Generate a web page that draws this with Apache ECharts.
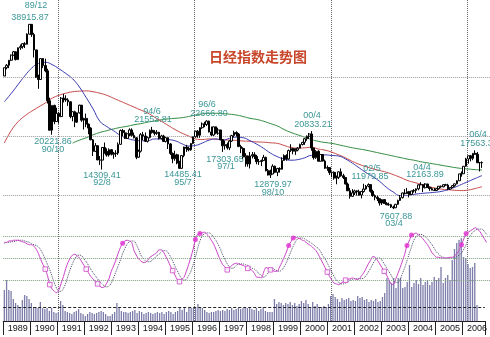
<!DOCTYPE html>
<html><head><meta charset="utf-8">
<script src="https://cdn.jsdelivr.net/npm/echarts@6/dist/echarts.min.js"></script>
<style>html,body{margin:0;padding:0;background:#fff}#c{width:490px;height:337px}</style>
</head><body><div id="c"></div>
<script>
// ---- categories (months) ----
const categories = [];
for (let y = 1989; y <= 2006; y++) for (let m = 1; m <= 12; m++) if (categories.length < 214) categories.push(y + '/' + String(m).padStart(2, '0'));

// ---- monthly prices 1989/01 .. 2006/07 ----
const open = [
30160,31580,31990,32840,33710,34270,32950,34950,35140,35640,35550,37270,
38920,37190,34590,29980,29580,33130,31940,31040,25980,20980,25190,22450,
23850,23290,26410,26290,26110,25790,23290,24120,22340,23920,25220,22690,
22980,22020,21340,19350,17390,18350,15950,15910,18060,17400,16770,17680,
16920,17020,17110,18590,20920,20550,19590,20380,21030,20110,19700,16410,
17420,20230,20000,19110,19730,20970,20640,20450,20630,19560,19990,19080,
19720,18650,17050,16140,16810,15440,14520,16680,18120,17910,17650,18740,
19870,20810,20130,21410,22040,21960,22530,20690,20170,21560,20470,21020,
19360,18330,18560,18000,19150,20070,20600,20330,18230,17890,16460,16630,
15260,16630,16830,16530,15640,15670,15830,16380,14110,13410,13560,14880,
13840,14500,14370,15840,16700,16110,17530,17860,17440,17610,17940,18560,
18930,19540,19960,20340,17970,16330,17410,15730,16860,15750,14540,14650,
13790,13840,12880,13000,13930,13260,12970,11860,10710,9770,10370,10700,
10540,10000,10590,11020,11490,11760,10620,9880,9620,9380,8640,9220,
8580,8340,8360,7970,7830,8420,9080,9560,10340,10220,10560,10100,
10680,10780,11040,11720,11760,11240,11860,11330,11080,10820,10770,11070,
11490,11390,11740,11670,11010,11280,11580,11900,12410,13570,13610,14870,
16110,16650,16210,17060,16910,15470,15510];
const close = [
31580,31990,32840,33710,34270,32950,34950,35140,35640,35550,37270,38920,
37190,34590,29980,29580,33130,31940,31040,25980,20980,25190,22450,23850,
23290,26410,26290,26110,25790,23290,24120,22340,23920,25220,22690,22980,
22020,21340,19350,17390,18350,15950,15910,18060,17400,16770,17680,16920,
17020,17110,18590,20920,20550,19590,20380,21030,20110,19700,16410,17420,
20230,20000,19110,19730,20970,20640,20450,20630,19560,19990,19080,19720,
18650,17050,16140,16810,15440,14520,16680,18120,17910,17650,18740,19870,
20810,20130,21410,22040,21960,22530,20690,20170,21560,20470,21020,19360,
18330,18560,18000,19150,20070,20600,20330,18230,17890,16460,16630,15260,
16630,16830,16530,15640,15670,15830,16380,14110,13410,13560,14880,13840,
14500,14370,15840,16700,16110,17530,17860,17440,17610,17940,18560,18930,
19540,19960,20340,17970,16330,17410,15730,16860,15750,14540,14650,13790,
13840,12880,13000,13930,13260,12970,11860,10710,9770,10370,10700,10540,
10000,10590,11020,11490,11760,10620,9880,9620,9380,8640,9220,8580,
8340,8360,7970,7830,8420,9080,9560,10340,10220,10560,10100,10680,
10780,11040,11720,11760,11240,11860,11330,11080,10820,10770,11070,11490,
11390,11740,11670,11010,11280,11580,11900,12410,13570,13610,14870,16110,
16650,16210,17060,16910,15470,15510,15460];
const low = [
30160,31300,31500,32700,33600,32800,32900,34600,34800,34900,35500,37200,
36800,33300,29840,28000,29500,31500,30800,25500,20980,20220,22000,22400,
22100,23200,25700,25800,25100,23000,22500,21500,22200,23800,22400,21100,
21500,20300,19300,16600,17300,15900,15100,14310,17000,16500,16500,16700,
16150,16450,16800,18500,20000,19500,19500,20000,19900,19600,16080,16300,
17200,19300,19000,18900,19600,20400,20100,20200,19400,19400,19000,18900,
17800,16800,15380,15800,15200,14600,14490,16400,17300,17400,17500,18600,
19700,19700,19700,21200,21500,21700,20600,20000,20000,20300,20200,19300,
17300,17700,17700,17600,19000,19800,19900,18100,17100,16100,14800,14800,
14500,16200,16100,15200,15100,14900,15800,14000,13300,12880,13500,13700,
13200,13800,14300,15800,15800,16000,17300,16900,16800,17400,17900,18400,
18500,19200,19500,17500,16000,16100,15700,15700,15700,14400,14100,13400,
13000,12600,11820,12700,13100,12700,11800,10700,9380,9700,10000,9900,
9900,9420,10400,10900,11300,10400,9700,9100,8970,8200,8300,8500,
8300,8200,7800,7610,7800,8300,9000,9400,10100,10200,9600,10000,
10400,10300,10800,11700,10500,11100,11200,10700,10800,10700,10700,10900,
11200,11300,11600,10800,10900,11200,11400,11800,12400,13100,13600,14800,
15300,15700,15900,16800,15400,14000,14600];
const high = [
31580,32200,32850,33800,34400,34300,35000,35500,35700,35900,37400,38920,
38700,37500,34600,30400,33200,33200,33100,31400,26500,25200,25300,24800,
24100,26600,27150,26900,26400,25900,24200,24300,24000,25300,25100,23100,
23800,22100,21500,19500,18800,18400,16600,18100,18900,17900,17900,17800,
17300,17600,18900,21100,21200,21000,20600,21300,21300,20600,19800,17700,
20500,20700,20600,19900,21100,21550,21000,21000,20700,20200,20200,19800,
19700,18800,17200,17500,17000,15800,16800,18200,18500,18200,18800,19900,
20900,21000,21500,22300,22400,22670,22600,21600,21600,21600,21400,21000,
19500,19200,18900,19300,20200,20900,20800,20500,18500,18100,17100,16500,
17300,17300,17250,16800,16100,16000,16800,16500,14400,14300,15200,15000,
14600,14700,16400,16900,16900,17700,18600,18000,17900,18100,18700,19000,
19600,20100,20500,20830,18000,17600,17600,16900,16900,16000,15000,14700,
14000,14000,13300,14000,14500,13600,13000,12100,11200,11000,10900,10800,
10900,10700,11900,11700,11980,11800,10900,10100,9900,9400,9300,9200,
8800,8700,8500,8200,8500,9200,10000,10400,11000,11200,10700,10700,
11000,11100,11800,12160,11800,12000,11900,11400,11300,11200,11200,11500,
11600,11800,11900,11900,11300,11700,11900,12500,13600,14000,14900,16300,
16650,16800,17100,17560,17300,15600,15700];

// ---- moving averages, read every 3rd month ----
const maBlue = [25800,27200,28700,30200,31500,32300,32500,32100,31400,30600,29700,28300,26500,24600,22500,21600,20900,20100,19600,19300,19200,19200,19500,19500,19400,19200,18700,18300,18400,18800,19300,19500,19300,19600,19800,19700,19200,18600,17900,17100,16500,16100,15900,16000,16300,16700,16700,16800,
16700,16600,16100,15400,14600,13800,13100,12300,11300,10500,9900,9900,10100,10250,10350,10450,10600,10900,11300,11800,12300,12800,13300];
const maRed = [18800,20900,22400,23400,24200,24900,25600,26400,26900,27250,27500,27600,27650,27500,27250,26900,26400,25900,25400,24900,24400,23900,23200,22500,21800,21100,20500,20000,19500,19400,19500,19450,19350,19300,19250,19150,19100,19000,18950,18850,18750,18400,18050,17950,18000,18100,
17800,17600,17250,16800,16300,15700,15200,14800,14450,14150,13850,13450,13000,12500,12150,11850,11500,11200,11000,10900,10800,10750,10850,11100,11400];
const maGreen = [null,null,null,null,null,null,null,null,null,null,
18800,19300,19700,20200,20600,20900,21200,21450,21650,21900,22100,22350,22550,22750,22900,23000,23100,23300,23550,23750,23850,23850,23800,23700,23550,23300,23000,22800,22500,22100,21700,21100,20600,20200,19800,19400,19100,18900,18750,18500,18250,18000,17800,17600,17350,17100,16850,16600,16350,16100,15900,15650,15450,15250,15050,14850,14650,14500,14400,14300,14250];

// ---- oscillator (0-100) ----
const oscMain = [71,71,73,73,74,74,74,73,72,71,69,68,
68,66,62,56,48,41,35,26,14,8,5,3,
7,16,25,36,44,50,54,55,53,50,45,40,
35,30,25,22,18,15,12,10,11,16,22,32,
39,47,56,64,70,73,74,73,71,60,54,49,
46,44,44,47,51,53,55,57,61,61,58,52,
46,39,33,27,21,18,21,24,32,41,51,62,
75,82,83,84,85,82,79,74,69,62,54,47,
41,38,34,37,40,42,43,42,41,40,38,36,
35,33,29,24,24,23,31,37,36,34,33,32,
32,38,44,51,58,67,72,77,78,77,76,74,
73,70,68,66,63,60,55,49,43,37,31,25,
20,16,15,14,16,18,20,21,22,23,22,21,
22,26,30,36,42,47,52,51,47,42,37,32,
27,21,15,14,21,29,37,46,55,67,73,81,
82,84,81,79,76,72,68,63,57,54,51,51,
50,50,50,50,51,51,53,56,61,68,76,83,
85,87,89,91,89,86,81,76,71];
const oscSignal = [70,71,71,72,72,73,74,74,74,73,72,71,
69,68,67,65,61,55,48,41,34,25,16,9,
5,5,9,16,26,35,43,49,53,54,53,49,
45,40,35,30,26,22,18,15,12,11,12,16,
23,31,39,47,56,63,69,72,73,73,68,62,
54,50,46,45,45,47,50,53,55,58,60,60,
57,52,46,39,33,27,22,20,21,26,32,41,
51,63,73,80,83,84,84,82,78,74,68,62,
54,48,42,38,36,37,40,42,42,42,41,40,
38,36,35,32,29,26,24,26,30,35,36,34,
33,32,34,38,44,51,59,66,72,76,77,77,
76,74,72,70,68,65,63,59,53,49,43,37,
31,25,20,17,15,15,16,18,20,21,22,22,
22,22,23,26,31,36,42,47,50,50,47,42,
37,32,27,21,17,17,21,29,37,46,56,65,
74,79,82,82,81,79,76,72,68,63,58,55,
52,51,50,50,50,50,51,52,54,57,62,68,
76,81,85,87,89,89,89,86,82];
const buyMonths = [52,84,86,125,127,177,179,201,203];
const sellMonths = [18,20,36,41,74,77,98,107,117,142,150,167];

// ---- volume (relative) ----
const volume = [
31,41,31,30,22,18,16,14,21,26,25,22,
18,14,14,13,19,13,12,13,10,13,9,8,
9,20,16,10,9,8,7,9,10,12,8,7,
5,7,9,8,7,8,9,10,9,7,5,5,
7,9,18,13,10,9,9,8,9,10,11,8,
10,9,7,8,9,8,7,8,9,8,9,7,
9,10,9,7,9,10,13,11,14,9,13,13,
13,13,17,14,13,11,9,8,9,9,10,11,
10,11,10,12,11,13,11,12,13,12,13,13,
13,14,12,11,13,10,12,14,10,9,9,9,
22,17,19,18,16,18,17,19,16,18,15,17,
20,18,21,17,14,19,15,17,14,14,15,14,
17,25,27,24,22,19,23,21,22,23,20,21,
20,25,23,24,21,22,19,21,20,22,19,20,
24,28,43,41,38,43,33,43,43,33,34,39,
56,34,38,41,37,43,36,39,41,36,39,44,
41,43,54,38,43,46,41,61,72,78,81,83,
64,63,57,53,54,58,16];
const volumeRef = 13.3;

// ---- annotations ----
const titleText = '日经指数走势图';
const noteTexts = ['89/12','38915.87','20221.86','90/10','14309.41','92/8','94/6','21552.81','14485.41','95/7','96/6','22666.80','17303.65','97/1','12879.97','98/10','00/4','20833.21','02/5','11979.85','7607.88','03/4','04/4','12163.89','06/4','17563.37'];

// ================= layout & styling =================
const notePos = [[36,5.5],[30,17.5],[53,142],[53,150],[102,175.5],[102,183],[152,111.5],[153,120],[183,175],[183,183],[207,105],[209,114],[225,159.7],[226,166.3],[273,185],[273,193],[312,115.5],[313,124.5],[372,169],[370,177],[396,216.5],[394,224],[422,168],[425,175],[478,135],[479,143.5]];

const chart = echarts.init(document.getElementById('c'), null, {renderer: 'canvas'});
const L = 3.2, W = 214 * 2.283;
const everyThird = arr => categories.map((c, i) => (i % 3 === 0 && i / 3 < arr.length) ? arr[i / 3] : null);
const candles = open.map((o, i) => [o, close[i], low[i], high[i]]);
const baseX = idx => ({type: 'category', data: categories, gridIndex: idx, boundaryGap: true,
  axisLine: {show: false}, axisTick: {show: false}, axisLabel: {show: false}, splitLine: {show: false}});
const hidY = (idx, min, max) => ({type: 'value', gridIndex: idx, min, max, axisLine: {show: false},
  axisTick: {show: false}, axisLabel: {show: false}, splitLine: {show: false}});
const vlines = [24, 84, 144, 204];
const noteColor = '#3c9696';

const graphics = noteTexts.map((t, k) => ({type: 'text', x: notePos[k][0], y: notePos[k][1], z: 50,
  style: {text: t, fill: noteColor, font: '9px "Liberation Sans"', align: 'center', verticalAlign: 'middle', textAlign: 'center', textVerticalAlign: 'middle'}}));
graphics.push({type: 'text', x: 258, y: 57, z: 50, style: {text: titleText, fill: '#c8462a', font: 'bold 14px "Noto Sans CJK SC"', align: 'center', verticalAlign: 'middle', textAlign: 'center', textVerticalAlign: 'middle'}});

const volX = baseX(2);
volX.axisLine = {show: true, lineStyle: {color: '#222', width: 1}};
volX.axisTick = {show: true, length: 14, inside: false, interval: (i) => i % 12 === 0, lineStyle: {color: '#222', width: 1}};
volX.axisLabel = {show: true, interval: (i) => i % 12 === 6, formatter: v => v.slice(0, 4), fontSize: 9, color: '#111', fontFamily: 'Liberation Sans', margin: 3};
const lineX = baseX(3);
lineX.splitLine = {show: true, interval: (i) => vlines.indexOf(i) >= 0, lineStyle: {type: 'dotted', color: '#666', width: 1}};

const gl = (v) => ({yAxis: v});
chart.setOption({
  animation: false,
  backgroundColor: '#fff',
  grid: [
    {left: L, top: 0, width: W, height: 230},
    {left: L, top: 221, width: W, height: 81.4},
    {left: L, top: 230, width: W, height: 91},
    {left: L, top: 0, width: W, height: 321}
  ],
  xAxis: [baseX(0), baseX(1), volX, lineX],
  yAxis: [hidY(0, 4068, 43051), hidY(1, -10, 100), hidY(2, 0, 91), hidY(3, 0, 1)],
  graphic: graphics,
  series: [
    {type: 'bar', xAxisIndex: 2, yAxisIndex: 2, data: volume, barWidth: 1.3, itemStyle: {color: '#7c7caa'}, z: 1,
      markLine: {silent: true, symbol: ['none','none'], label: {show: false}, lineStyle: {type: [3, 2], color: '#222', width: 1}, data: [gl(volumeRef)]}},
    {type: 'line', xAxisIndex: 1, yAxisIndex: 1, data: oscSignal, showSymbol: false, smooth: 0.3, lineStyle: {color: '#4a4a6a', width: 1, type: 'dotted'}, z: 3},
    {type: 'line', xAxisIndex: 1, yAxisIndex: 1, data: oscMain, showSymbol: false, smooth: 0.3, lineStyle: {color: '#cc44c8', width: 1}, z: 4,
      markLine: {silent: true, symbol: ['none','none'], label: {show: false}, lineStyle: {type: 'dotted', color: '#7f9f7f', width: 1}, data: [gl(20), gl(50), gl(80)]}},
    {type: 'scatter', xAxisIndex: 1, yAxisIndex: 1, data: buyMonths.map(i => [categories[i], oscMain[i]]), symbol: 'circle', symbolSize: 5, itemStyle: {color: '#e030d0'}, z: 6},
    {type: 'scatter', xAxisIndex: 1, yAxisIndex: 1, data: sellMonths.map(i => [categories[i], oscMain[i]]), symbol: 'rect', symbolSize: 4.5, itemStyle: {color: '#fff', borderColor: '#cc44c8', borderWidth: 1}, z: 6},
    {type: 'candlestick', xAxisIndex: 0, yAxisIndex: 0, data: candles, barWidth: 2.2, z: 5,
      itemStyle: {color: '#fff', color0: '#000', borderColor: '#000', borderColor0: '#000', borderWidth: 1},
      markLine: {silent: true, symbol: ['none','none'], label: {show: false}, lineStyle: {type: 'dotted', color: '#999', width: 1}, data: [gl(10000), gl(20000), gl(30000)]}},
    {type: 'line', xAxisIndex: 0, yAxisIndex: 0, data: everyThird(maGreen), connectNulls: true, smooth: true, showSymbol: false, lineStyle: {color: '#2e8b3e', width: 1}, z: 4},
    {type: 'line', xAxisIndex: 0, yAxisIndex: 0, data: everyThird(maRed), connectNulls: true, smooth: true, showSymbol: false, lineStyle: {color: '#c84848', width: 1}, z: 4},
    {type: 'line', xAxisIndex: 0, yAxisIndex: 0, data: everyThird(maBlue), connectNulls: true, smooth: true, showSymbol: false, lineStyle: {color: '#3a3ab0', width: 1}, z: 4}
  ]
});
</script></body></html>
